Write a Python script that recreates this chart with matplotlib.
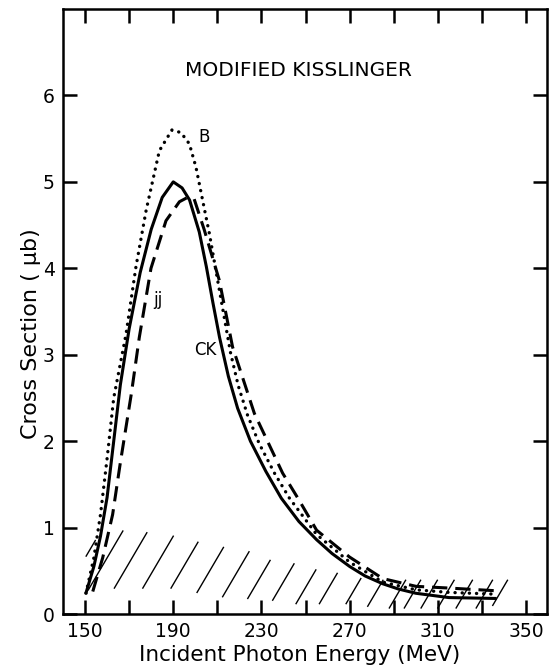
import numpy as np
import matplotlib
matplotlib.use("Agg")
import matplotlib.pyplot as plt

# Curves: energy (MeV), cross section (microbarn)
ck_E = [150.5, 154, 157, 160, 163, 166, 170, 175, 180, 185, 190, 194, 197.4,
        201.8, 205, 208, 211, 215, 219.2, 225, 232, 239, 247, 255, 262, 270,
        277, 285, 292, 300, 315, 336]
ck_v = [0.25, 0.55, 0.9, 1.35, 2.0, 2.65, 3.3, 3.95, 4.45, 4.82, 5.0, 4.93, 4.79,
        4.42, 4.02, 3.6, 3.2, 2.75, 2.38, 2.0, 1.65, 1.34, 1.07, 0.86, 0.7, 0.55,
        0.44, 0.35, 0.29, 0.24, 0.19, 0.18]

b_E = [150.4, 154, 157, 160, 163, 168.6, 173.1, 177.7, 183.7, 189.4, 193.5,
       197.3, 200.3, 203.3, 206.4, 210, 213, 216, 219.5, 223.7, 229, 235.9,
       242.7, 255, 270, 285, 300, 315, 335.6]
b_v = [0.24, 0.65, 1.15, 1.8, 2.5, 3.24, 4.02, 4.67, 5.36, 5.6, 5.57,
       5.44, 5.17, 4.79, 4.4, 3.88, 3.45, 3.02, 2.64, 2.3, 1.97, 1.63,
       1.34, 0.92, 0.6, 0.37, 0.28, 0.25, 0.23]

jj_E = [153.5, 158, 162.5, 166, 171, 174.6, 179.9, 186.7, 192.8, 196.5, 199.5,
        204, 207.5, 210.9, 216.9, 226.8, 239.6, 247, 255, 269.9, 285, 300.1,
        315.2, 335.6]
jj_v = [0.26, 0.65, 1.15, 1.75, 2.55, 3.2, 4.0, 4.55, 4.77, 4.82, 4.8,
        4.45, 4.15, 3.86, 3.09, 2.32, 1.63, 1.32, 0.97, 0.66, 0.41, 0.32,
        0.30, 0.27]

# Hatched band: foot of each hatch stroke and the band limits there
hatch_E = [150.5, 151.5, 163.3, 176.2, 189.0, 200.8, 212.4, 223.8, 235.1, 245.7,
           256.3, 268.4, 278.2, 288.0, 294.8, 302.4, 310.0, 318.3, 327.4, 334.9]
hatch_lo = [0.67, 0.28, 0.30, 0.30, 0.30, 0.25, 0.20, 0.18, 0.16, 0.12,
            0.12, 0.12, 0.09, 0.07, 0.07, 0.07, 0.07, 0.07, 0.07, 0.10]
hatch_hi = [0.85, 0.96, 0.94, 0.90, 0.83, 0.77, 0.72, 0.62, 0.58, 0.51,
            0.47, 0.41, 0.39, 0.39, 0.39, 0.39, 0.39, 0.39, 0.39, 0.39]
hatch_slope = 23.0  # MeV per microbarn along a stroke

x_ticks = list(range(150, 351, 20))
y_ticks = [0, 1, 2, 3, 4, 5, 6]

plt.rcParams['font.family'] = ['DejaVu Sans']

fig = plt.figure(figsize=(5.51, 6.69), dpi=100)
ax = fig.add_axes([63 / 551, 55 / 669, 484 / 551, 605 / 669])

# hatch strokes
for e, lo, hi in zip(hatch_E, hatch_lo, hatch_hi):
    ax.plot([e, e + hatch_slope * (hi - lo)], [lo, hi], color='black', lw=1.0)

ax.plot(b_E, b_v, color='black', lw=2.4, linestyle=(0, (0.05, 2.1)),
        dash_capstyle='round', solid_capstyle='round')
ax.plot(jj_E, jj_v, color='black', lw=2.2, linestyle=(0, (5, 2.6)))
ax.plot(ck_E, ck_v, color='black', lw=2.2, solid_joinstyle='round')

ax.text(247, 6.29, 'MODIFIED KISSLINGER', ha='center', va='center', fontsize=14.5)
ax.text(201.5, 5.52, 'B', ha='left', va='center', fontsize=12)
ax.text(183, 3.63, 'jj', ha='center', va='center', fontsize=12)
ax.text(209.5, 3.05, 'CK', ha='right', va='center', fontsize=12)

ax.set_xlim(140, 359.5)
ax.set_ylim(0, 7)
ax.set_xticks(x_ticks)
ax.set_xticklabels([str(t) if (t - 150) % 40 == 0 else '' for t in x_ticks])
ax.set_yticks(y_ticks)
ax.tick_params(direction='in', length=10, width=1.8, top=True, right=True,
               labelsize=13.5, pad=6)
for s in ax.spines.values():
    s.set_linewidth(1.8)

ax.set_xlabel('Incident Photon Energy (MeV)', fontsize=15.5)
ax.set_ylabel('Cross Section ( μb)', fontsize=16)
ax.xaxis.set_label_coords(0.488, -0.052)
ax.yaxis.set_label_coords(-0.045, 0.464)

fig.savefig('out.png', dpi=100)
